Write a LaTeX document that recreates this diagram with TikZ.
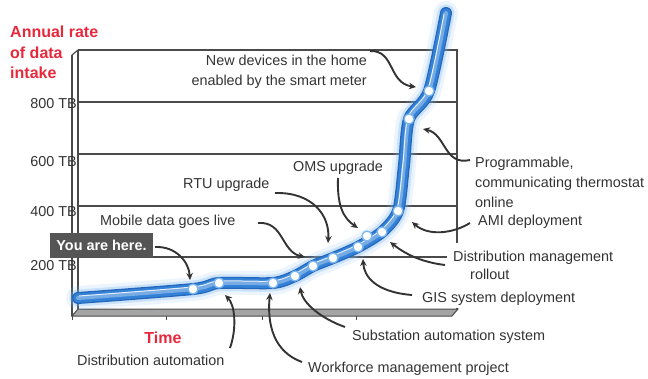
\documentclass[tikz,border=0pt]{standalone}
\usepackage{fontspec}
\setmainfont{Liberation Sans}
\usetikzlibrary{arrows.meta}
\definecolor{txt}{HTML}{333333}
\definecolor{axred}{HTML}{E8283C}
\definecolor{band}{HTML}{3382D8}
\definecolor{bandedge}{HTML}{2466BA}
\definecolor{glow}{HTML}{7DB7F0}
\definecolor{frame}{HTML}{4A4A4A}
\definecolor{floorg}{HTML}{A4A4A4}
\definecolor{herebox}{HTML}{555555}
\begin{document}
\begin{tikzpicture}[x=1pt,y=-1pt,
  lbl/.style={font=\fontsize{14.4}{18}\selectfont, text=txt, inner sep=0pt},
  axlbl/.style={font=\fontsize{16}{20}\selectfont\bfseries, text=axred, inner sep=0pt},
  conn/.style={draw=txt, line width=1.9pt, -{Stealth[length=7pt,width=6.5pt]}},
  dot/.style={circle, fill=white, draw=glow, line width=1.3pt, minimum size=10pt, inner sep=0pt},
  gridline/.style={draw=frame, line width=1.5pt},
  frm/.style={draw=frame, line width=1.2pt}]
\useasboundingbox (0,0) rectangle (648,378);

% chart frame
\draw[frm] (78,50) -- (457,50) -- (457,309);
\draw[frm] (78,50) -- (78,309);
\draw[frm] (72,55) -- (72,316);
\draw[frm] (72,55) -- (78,50);
\foreach \y in {102,154,206,257} \draw[gridline] (78,\y) -- (457,\y);
\filldraw[fill=floorg, draw=frame, line width=1pt] (78,309) -- (458,309) -- (452,316) -- (72,316) -- cycle;
\foreach \x in {72,166,262,356} \draw[frame, line width=1pt] (\x,316) -- (\x,320);

% mask behind right-hand labels
\fill[white] (447,243) rectangle (648,308);

% glowing band
\foreach \w/\c/\o in {24/glow/0.15, 17/glow/0.3, 12/bandedge/1, 9.5/band/1, 4/band!45!white/0.6}
  \draw[line width=\w pt, color=\c, opacity=\o, line cap=round, line join=round]
    plot[smooth, tension=0.45] coordinates {(78,298) (193,289) (219,283) (273,283) (295,276) (313,266) (333,258) (358,247) (382,232) (398,211) (404,165) (409,119) (429,91) (446,13)};
\draw[line width=1pt, white, opacity=0.85, line cap=round, xshift=-1pt, yshift=2pt]
    plot[smooth, tension=0.45] coordinates {(80,298) (193,289) (219,283) (273,283) (295,276) (313,266) (333,258) (358,247) (382,232) (398,211) (404,165) (409,119) (429,91) (445,16)};

% milestone dots
\foreach \n/\p in {1/{(193,289)},2/{(219,283)},3/{(273,283)},4/{(295,276)},5/{(313,266)},6/{(333,258)},7/{(358,247)},8/{(367,236)},9/{(382,232)},10/{(398,211)},11/{(409,119)},12/{(429,91)}}
  \node[dot] (d\n) at \p {};

% axis labels
\node[axlbl, anchor=base west] (ax1) at (10,37) {Annual rate};
\node[axlbl, anchor=base west] (ax2) at (10,58) {of data};
\node[axlbl, anchor=base west] (ax3) at (10,78) {intake};
\node[axlbl, anchor=base] (time) at (163,343) {Time};
\node[lbl, anchor=base east] (t800) at (77,108) {800 TB};
\node[lbl, anchor=base east] (t600) at (77,166) {600 TB};
\node[lbl, anchor=base east] (t400) at (77,216) {400 TB};
\node[lbl, anchor=base east] (t200) at (77,270) {200 TB};

% labels
\node[fill=herebox, minimum width=103pt, minimum height=25pt, inner sep=0pt, text=white,
      font=\fontsize{14.4}{18}\selectfont\bfseries] (here) at (101.5,245.5) {You are here.};
\node[lbl, anchor=base east] (nd1) at (367,65) {New devices in the home};
\node[lbl, anchor=base east] (nd2) at (367,85) {enabled by the smart meter};
\node[lbl, anchor=base west] (mob) at (100,225) {Mobile data goes live};
\node[lbl, anchor=base west] (rtu) at (183,188) {RTU upgrade};
\node[lbl, anchor=base west] (oms) at (293,171) {OMS upgrade};
\node[lbl, anchor=base west] (pr1) at (475,167) {Programmable,};
\node[lbl, anchor=base west] (pr2) at (475,187) {communicating thermostat};
\node[lbl, anchor=base west] (pr3) at (475,207) {online};
\node[lbl, anchor=base west] (ami) at (478,225) {AMI deployment};
\node[lbl, anchor=base west] (dm1) at (453,261) {Distribution management};
\node[lbl, anchor=base west] (dm2) at (470,279) {rollout};
\node[lbl, anchor=base west] (gis) at (422,302) {GIS system deployment};
\node[lbl, anchor=base west] (sub) at (352,340) {Substation automation system};
\node[lbl, anchor=base west] (wf) at (308,372) {Workforce management project};
\node[lbl, anchor=base west] (da) at (77,365) {Distribution automation};

% connector ends
\coordinate (s1) at (155,247);  \coordinate (e1) at (190,280);
\coordinate (s2) at (258,223);  \coordinate (e2) at (305,257);
\coordinate (s3) at (275,193);  \coordinate (e3) at (328,243);
\coordinate (s4) at (338,178);  \coordinate (e4) at (358,228);
\coordinate (s5) at (370,51);   \coordinate (e5) at (416,87);
\coordinate (s6) at (470,160);  \coordinate (e6) at (423,129);
\coordinate (s7) at (470,223);  \coordinate (e7) at (412,222);
\coordinate (s8) at (445,265);  \coordinate (e8) at (390,242);
\coordinate (s9) at (412,295);  \coordinate (e9) at (363,259);
\coordinate (s10) at (345,327); \coordinate (e10) at (300,287);
\coordinate (s11) at (302,362); \coordinate (e11) at (270,293);
\coordinate (s12) at (230,348); \coordinate (e12) at (225,295);

\draw[conn] (s1) .. controls (176,246) and (189,262) .. (e1);
\draw[conn] (s2) .. controls (284,221) and (281,252) .. (e2);
\draw[conn] (s3) .. controls (312,192) and (330,215) .. (e3);
\draw[conn] (s4) .. controls (337,205) and (343,218) .. (e4);
\draw[conn] (s5) .. controls (395,50) and (388,83) .. (e5);
\draw[conn] (s6) .. controls (444,166) and (446,134) .. (e6);
\draw[conn] (s7) .. controls (452,234) and (428,236) .. (e7);
\draw[conn] (s8) .. controls (420,262) and (404,253) .. (e8);
\draw[conn] (s9) .. controls (375,292) and (364,276) .. (e9);
\draw[conn] (s10) .. controls (320,318) and (303,303) .. (e10);
\draw[conn] (s11) .. controls (274,352) and (267,325) .. (e11);
\draw[conn] (s12) .. controls (237,328) and (235,305) .. (e12);
\end{tikzpicture}
\end{document}
